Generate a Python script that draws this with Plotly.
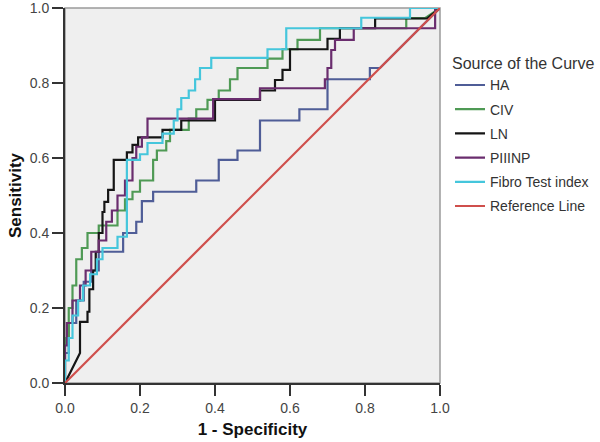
import plotly.graph_objects as go

# ROC curves: 1 - specificity (x) and sensitivity (y)
ha_x = [0, 0, 0.01, 0.01, 0.03, 0.03, 0.05, 0.05, 0.07, 0.07, 0.09, 0.09, 0.155, 0.155, 0.19, 0.19,
        0.205, 0.205, 0.235, 0.235, 0.35, 0.35, 0.41, 0.41, 0.46, 0.46, 0.52, 0.52, 0.625, 0.625,
        0.70, 0.70, 0.813, 0.813, 0.84, 1]
ha_y = [0, 0.08, 0.08, 0.16, 0.16, 0.22, 0.22, 0.27, 0.27, 0.30, 0.30, 0.35, 0.35, 0.40, 0.40, 0.43,
        0.43, 0.485, 0.485, 0.51, 0.51, 0.54, 0.54, 0.595, 0.595, 0.62, 0.62, 0.70, 0.70, 0.73,
        0.73, 0.81, 0.81, 0.84, 0.84, 1]

civ_x = [0, 0, 0.01, 0.01, 0.02, 0.02, 0.03, 0.03, 0.045, 0.045, 0.06, 0.06, 0.09, 0.09, 0.14, 0.14,
         0.16, 0.16, 0.18, 0.18, 0.20, 0.20, 0.235, 0.235, 0.245, 0.245, 0.27, 0.27, 0.28, 0.28,
         0.33, 0.33, 0.35, 0.35, 0.38, 0.38, 0.41, 0.41, 0.44, 0.44, 0.46, 0.46, 0.54, 0.54,
         0.58, 0.58, 0.62, 0.62, 0.68, 0.68, 0.91, 0.91, 0.96, 1]
civ_y = [0, 0.12, 0.12, 0.20, 0.20, 0.26, 0.26, 0.33, 0.33, 0.36, 0.36, 0.40, 0.40, 0.42, 0.42, 0.46,
         0.46, 0.49, 0.49, 0.51, 0.51, 0.54, 0.54, 0.595, 0.595, 0.62, 0.62, 0.645, 0.645, 0.675,
         0.675, 0.705, 0.705, 0.73, 0.73, 0.755, 0.755, 0.78, 0.78, 0.81, 0.81, 0.84, 0.84, 0.865,
         0.865, 0.89, 0.89, 0.915, 0.915, 0.946, 0.946, 0.973, 0.973, 1]

ln_x = [0, 0.04, 0.04, 0.06, 0.06, 0.065, 0.065, 0.075, 0.075, 0.082, 0.082, 0.09, 0.09, 0.10, 0.10,
        0.105, 0.105, 0.115, 0.115, 0.13, 0.13, 0.165, 0.165, 0.18, 0.18, 0.195, 0.195, 0.26, 0.26,
        0.31, 0.31, 0.40, 0.40, 0.52, 0.52, 0.56, 0.56, 0.58, 0.58, 0.60, 0.60, 0.70, 0.70,
        0.733, 0.733, 0.827, 0.827, 0.965, 1]
ln_y = [0, 0.08, 0.163, 0.163, 0.19, 0.19, 0.25, 0.25, 0.30, 0.30, 0.35, 0.35, 0.40, 0.40, 0.456,
        0.456, 0.483, 0.483, 0.515, 0.515, 0.595, 0.595, 0.615, 0.615, 0.635, 0.635, 0.655, 0.655,
        0.675, 0.675, 0.70, 0.70, 0.755, 0.755, 0.78, 0.78, 0.808, 0.808, 0.835, 0.835, 0.89, 0.89,
        0.918, 0.918, 0.946, 0.946, 0.972, 0.972, 1]

p3np_x = [0, 0, 0.005, 0.005, 0.02, 0.02, 0.04, 0.04, 0.055, 0.055, 0.07, 0.07, 0.09, 0.09, 0.11,
          0.11, 0.125, 0.125, 0.14, 0.14, 0.16, 0.16, 0.18, 0.18, 0.19, 0.19, 0.205, 0.205, 0.22,
          0.22, 0.395, 0.395, 0.52, 0.52, 0.693, 0.693, 0.70, 0.70, 0.71, 0.71, 0.72, 0.72, 0.77,
          0.77, 0.987, 0.987, 1]
p3np_y = [0, 0.10, 0.10, 0.16, 0.16, 0.22, 0.22, 0.26, 0.26, 0.30, 0.30, 0.35, 0.35, 0.38, 0.38,
          0.43, 0.43, 0.46, 0.46, 0.50, 0.50, 0.54, 0.54, 0.60, 0.60, 0.63, 0.63, 0.655, 0.655,
          0.705, 0.705, 0.757, 0.757, 0.786, 0.786, 0.81, 0.81, 0.84, 0.84, 0.888, 0.888, 0.915,
          0.915, 0.946, 0.946, 1, 1]

fibro_x = [0, 0, 0.01, 0.01, 0.02, 0.02, 0.035, 0.035, 0.048, 0.048, 0.067, 0.067, 0.085, 0.085,
           0.10, 0.10, 0.14, 0.14, 0.165, 0.165, 0.20, 0.20, 0.22, 0.22, 0.26, 0.26, 0.29, 0.29,
           0.30, 0.30, 0.31, 0.31, 0.33, 0.33, 0.347, 0.347, 0.36, 0.36, 0.39, 0.39, 0.54, 0.54,
           0.59, 0.59, 0.79, 0.79, 0.92, 0.92, 1]
fibro_y = [0, 0.06, 0.06, 0.12, 0.12, 0.18, 0.18, 0.22, 0.22, 0.26, 0.26, 0.29, 0.29, 0.33, 0.33,
           0.36, 0.36, 0.39, 0.39, 0.595, 0.595, 0.61, 0.61, 0.64, 0.64, 0.665, 0.665, 0.70, 0.70,
           0.73, 0.73, 0.76, 0.76, 0.78, 0.78, 0.81, 0.81, 0.84, 0.84, 0.867, 0.867, 0.89, 0.89,
           0.946, 0.946, 0.974, 0.974, 1, 1]

ref_x = [0, 1]
ref_y = [0, 1]

fig = go.Figure()

curves = [
    ("HA", ha_x, ha_y, "#4f5d97"),
    ("CIV", civ_x, civ_y, "#4f9a55"),
    ("LN", ln_x, ln_y, "#151515"),
    ("PIIINP", p3np_x, p3np_y, "#6a2d6e"),
    ("Fibro Test index", fibro_x, fibro_y, "#45c6dc"),
    ("Reference Line", ref_x, ref_y, "#cf4f4c"),
]
for name, xs, ys, col in curves:
    fig.add_trace(go.Scatter(x=xs, y=ys, mode="lines", name=name, legendgroup=name,
                             line=dict(color=col, width=2.2)))

# light grey frame round the plot, dark axes on left and bottom
fig.add_shape(type="rect", xref="paper", yref="paper", x0=0, y0=0, x1=1, y1=1,
              line=dict(color="#9a9a9a", width=1.5), layer="below")

ticks = [0, 0.2, 0.4, 0.6, 0.8, 1.0]
ax = dict(range=[0, 1], tickvals=ticks, ticktext=["%.1f" % t for t in ticks],
          showgrid=False, zeroline=False, showline=True, linecolor="#333333", linewidth=2,
          ticks="outside", ticklen=11, tickwidth=2, tickcolor="#333333", automargin=False,
          ticklabeloverflow="allow", tickfont=dict(size=14, color="#444444"))

fig.update_layout(
    width=600, height=442,
    margin=dict(l=65, r=160, t=8, b=59),
    paper_bgcolor="white", plot_bgcolor="#efefef",
    font=dict(family="Liberation Sans, Arial, sans-serif", color="#222222"),
    xaxis=dict(ax, title=dict(text="<b>1 - Specificity</b>", font=dict(size=17, color="#111111"), standoff=8)),
    yaxis=dict(ax, title=dict(text="<b>Sensitivity</b>", font=dict(size=17, color="#111111"), standoff=4)),
    legend=dict(xref="container", yref="container", x=0.75, y=0.89, xanchor="left", yanchor="top",
                bgcolor="rgba(0,0,0,0)",
                title=dict(text="Source of the Curve", font=dict(size=16, color="#333333")),
                font=dict(size=14, color="#333333"), tracegroupgap=3, itemwidth=30),
    showlegend=True,
)

# the page body has an 8px default margin; drop it so the figure sits at the window corner
fig.write_html("out.html", config={"displayModeBar": False},
               post_script="document.body.style.margin='0';")
